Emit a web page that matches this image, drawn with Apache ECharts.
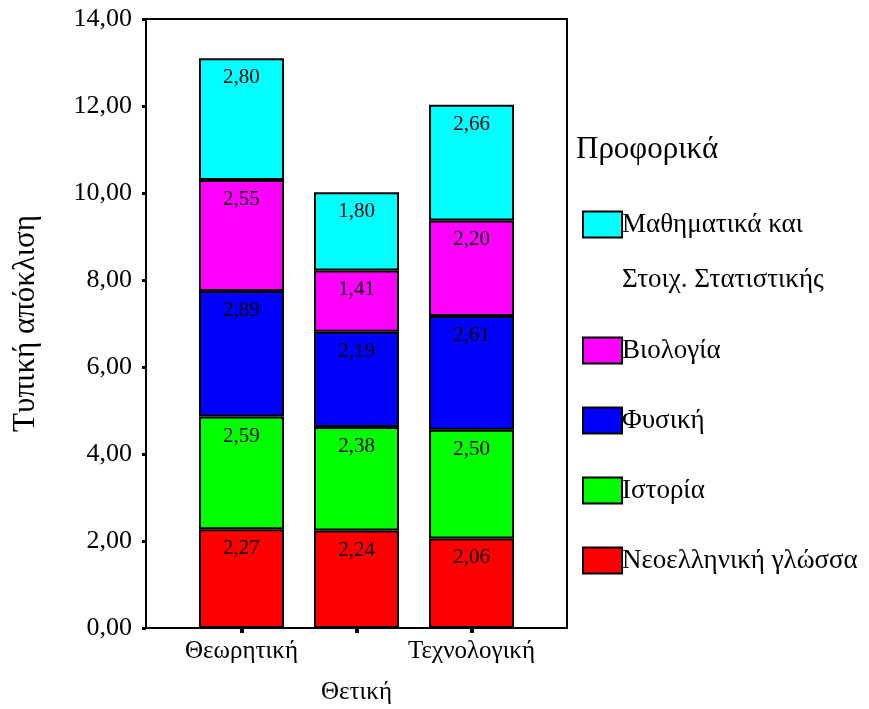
<!DOCTYPE html>
<html>
<head>
<meta charset="utf-8">
<script src="https://cdn.jsdelivr.net/npm/echarts@6/dist/echarts.min.js"></script>
<style>
    html, body { margin: 0; padding: 0; background: #fff; }
    #chart { width: 869px; height: 709px; }
</style>
</head>
<body>
<div id="chart"></div>
<script>
// κατηγορίες (κατεύθυνση) και τυπικές αποκλίσεις ανά μάθημα
var categories = ['Θεωρητική', 'Θετική', 'Τεχνολογική'];
var sdGreek = [2.27, 2.24, 2.06];
var sdHistory = [2.59, 2.38, 2.50];
var sdPhysics = [2.89, 2.19, 2.61];
var sdBiology = [2.55, 1.41, 2.20];
var sdMaths = [2.80, 1.80, 2.66];
var yTicks = [0, 2, 4, 6, 8, 10, 12, 14];

var font = 'Liberation Serif';
function fmt(v) { return v.toFixed(2).replace('.', ','); }
// [τιμή, θέση κατηγορίας] - η τιμή πρώτη ώστε το stack να γίνεται στον άξονα y
function toPoints(arr) {
    var out = [];
    for (var i = 0; i < arr.length; i++) out.push([arr[i], i]);
    return out;
}

var seriesDefs = [
    { name: 'Νεοελληνική γλώσσα', color: '#ff0000', data: sdGreek },
    { name: 'Ιστορία', color: '#00ff00', data: sdHistory },
    { name: 'Φυσική', color: '#0000ff', data: sdPhysics },
    { name: 'Βιολογία', color: '#ff00ff', data: sdBiology },
    { name: 'Μαθηματικά και Στοιχ. Στατιστικής', color: '#00ffff', data: sdMaths }
];

var series = seriesDefs.map(function (s) {
    return {
        name: s.name,
        type: 'bar',
        stack: 'total',
        barWidth: 85,
        encode: { x: 1, y: 0 },
        data: toPoints(s.data),
        itemStyle: { color: s.color, borderColor: '#000', borderWidth: 2 },
        label: {
            show: true,
            position: 'insideTop',
            distance: 9,
            color: '#000',
            fontFamily: font,
            fontSize: 21,
            formatter: function (p) { return fmt(p.value[0]); }
        },
        emphasis: { disabled: true }
    };
});

var legendNames = seriesDefs.map(function (s) { return s.name; }).reverse();

var option = {
    backgroundColor: '#fff',
    animation: false,
    title: {
        text: 'Προφορικά',
        left: 571,
        top: 129,
        textStyle: { fontFamily: font, fontSize: 31, fontWeight: 'normal', color: '#000' }
    },
    legend: {
        orient: 'vertical',
        left: 577,
        top: 137,
        itemWidth: 39,
        itemHeight: 26,
        itemGap: 17,
        icon: 'rect',
        selectedMode: false,
        itemStyle: { borderColor: '#000', borderWidth: 2 },
        textStyle: { fontFamily: font, fontSize: 27, color: '#000', lineHeight: 53, padding: [0, 0, 0, -5] },
        data: legendNames.map(function (n, i) {
            if (i === 0) return { name: n, textStyle: { lineHeight: 55 } };
            return { name: n };
        }),
        formatter: function (name) {
            if (name === legendNames[0]) return '\nΜαθηματικά και\nΣτοιχ. Στατιστικής';
            return name;
        }
    },
    grid: {
        left: 146,
        right: 302,
        top: 19,
        bottom: 81,
        outerBoundsMode: 'none',
        show: true,
        borderColor: '#000',
        borderWidth: 2,
        backgroundColor: 'transparent'
    },
    xAxis: {
        type: 'value',
        min: -0.83,
        max: 2.83,
        splitLine: { show: false },
        axisLine: { show: true, onZero: false, lineStyle: { color: '#000', width: 2 } },
        axisTick: {
            show: true,
            customValues: [0, 1, 2],
            length: 5,
            lineStyle: { color: '#000', width: 4 }
        },
        axisLabel: {
            customValues: [0, 1, 2],
            margin: 3,
            color: '#000',
            fontFamily: font,
            fontSize: 25,
            lineHeight: 41,
            formatter: function (v) {
                var name = categories[Math.round(v)];
                return Math.round(v) === 1 ? '\n' + name : name;
            }
        }
    },
    yAxis: {
        type: 'value',
        min: 0,
        max: 14,
        interval: 2,
        name: 'Τυπική απόκλιση',
        nameLocation: 'middle',
        nameGap: 105,
        nameTextStyle: { fontFamily: font, fontSize: 31, color: '#000' },
        splitLine: { show: false },
        axisLine: { show: true, onZero: false, lineStyle: { color: '#000', width: 2 } },
        axisTick: { show: true, length: 4, lineStyle: { color: '#000', width: 3 } },
        axisLabel: {
            margin: 14,
            color: '#000',
            fontFamily: font,
            fontSize: 26,
            formatter: function (v) { return yTicks.indexOf(v) >= 0 ? fmt(v) : ''; }
        }
    },
    series: series
};

var chart = echarts.init(document.getElementById('chart'));
chart.setOption(option);
</script>
</body>
</html>
